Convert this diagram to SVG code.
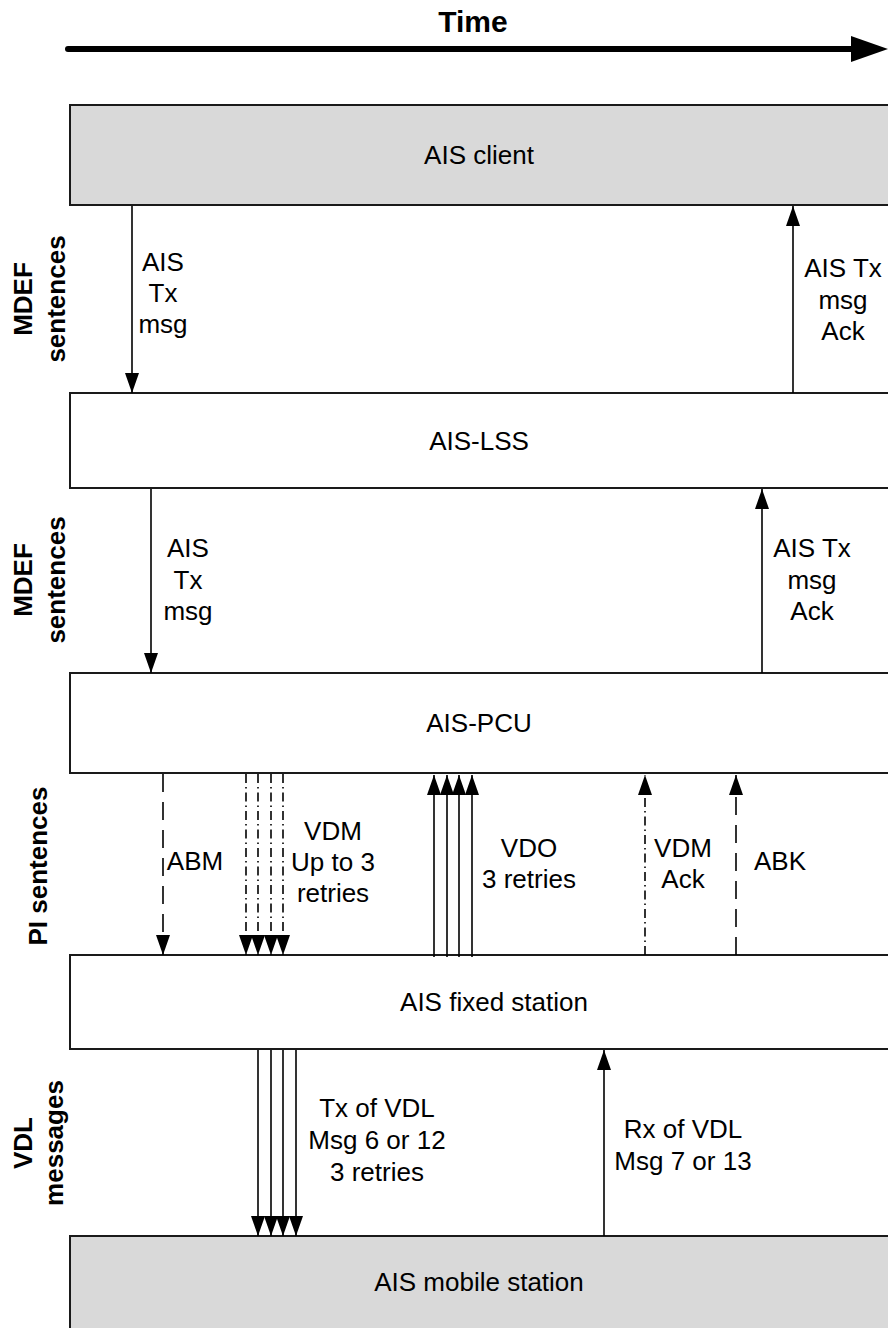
<svg xmlns="http://www.w3.org/2000/svg" width="888" height="1328" viewBox="0 0 888 1328">
<defs>
<style>
text{font-family:"Liberation Sans",Arial,sans-serif;fill:#000}
.t{font-size:26px;text-anchor:middle}
.b{font-size:26px;font-weight:bold;text-anchor:middle}
.box{stroke:#1a1a1a;stroke-width:2}
.grey{fill:#d9d9d9}
.white{fill:#fff}
.c{stroke:#000;stroke-width:1.6;fill:none}
.dash{stroke-dasharray:18,10}
.dd{stroke-dasharray:9,4,1.5,4}
.end{marker-end:url(#ah)}
</style>
<marker id="ah" markerUnits="userSpaceOnUse" markerWidth="20" markerHeight="14" refX="20" refY="7" orient="auto">
<path d="M0,0 L20,7 L0,14 z" fill="#000"/>
</marker>
</defs>
<rect width="888" height="1328" fill="#fff"/>

<g id="time">
<line x1="68" y1="49" x2="856" y2="49" stroke="#000" stroke-width="6" stroke-linecap="round"/>
<polygon points="851,36 888,49 851,62" fill="#000"/>
<text x="473" y="32" style="font-size:30px;font-weight:bold;text-anchor:middle">Time</text>
</g>

<g id="labels">
<text class="b" transform="translate(32,299) rotate(-90)">MDEF</text>
<text class="b" transform="translate(65,299) rotate(-90)">sentences</text>
<text class="b" transform="translate(32,580) rotate(-90)">MDEF</text>
<text class="b" transform="translate(65,580) rotate(-90)">sentences</text>
<text class="b" transform="translate(47,866) rotate(-90)">PI sentences</text>
<text class="b" transform="translate(32,1143) rotate(-90)">VDL</text>
<text class="b" transform="translate(63,1143) rotate(-90)">messages</text>
</g>

<g id="ais-client">
<rect class="box grey" x="70" y="105" width="830" height="100"/>
<text class="t" x="479" y="164">AIS client</text>
</g>
<g id="ais-lss">
<rect class="box white" x="70" y="393" width="830" height="95"/>
<text class="t" x="479" y="450">AIS-LSS</text>
</g>
<g id="ais-pcu">
<rect class="box white" x="70" y="673" width="830" height="100"/>
<text class="t" x="479" y="732">AIS-PCU</text>
</g>
<g id="ais-fixed-station">
<rect class="box white" x="70" y="955" width="830" height="94"/>
<text class="t" x="494" y="1011">AIS fixed station</text>
</g>
<g id="ais-mobile-station">
<rect class="box grey" x="70" y="1236" width="830" height="100"/>
<text class="t" x="479" y="1291">AIS mobile station</text>
</g>

<g id="connectors">
<line class="c end" x1="132" y1="206" x2="132" y2="393"/>
<line class="c end" x1="793" y1="393" x2="793" y2="206"/>
<line class="c end" x1="151" y1="489" x2="151" y2="673"/>
<line class="c end" x1="762" y1="673" x2="762" y2="489"/>

<line class="c dash end" x1="163" y1="774" x2="163" y2="955"/>
<line class="c dd end" x1="246" y1="774" x2="246" y2="955"/>
<line class="c dd end" x1="258" y1="774" x2="258" y2="955"/>
<line class="c dd end" x1="271" y1="774" x2="271" y2="955"/>
<line class="c dd end" x1="283" y1="774" x2="283" y2="955"/>

<line class="c end" x1="434" y1="957" x2="434" y2="775"/>
<line class="c end" x1="447" y1="957" x2="447" y2="775"/>
<line class="c end" x1="459" y1="957" x2="459" y2="775"/>
<line class="c end" x1="472" y1="957" x2="472" y2="775"/>

<line class="c dd end" x1="645" y1="955" x2="645" y2="775"/>
<line class="c dash end" x1="736" y1="955" x2="736" y2="775"/>

<line class="c end" x1="258" y1="1050" x2="258" y2="1236"/>
<line class="c end" x1="271" y1="1050" x2="271" y2="1236"/>
<line class="c end" x1="283" y1="1050" x2="283" y2="1236"/>
<line class="c end" x1="296" y1="1050" x2="296" y2="1236"/>

<line class="c end" x1="604" y1="1236" x2="604" y2="1050"/>
</g>

<g id="connector-labels">
<text class="t" x="163" y="271">AIS</text>
<text class="t" x="163" y="302">Tx</text>
<text class="t" x="163" y="333">msg</text>
<text class="t" x="843" y="277">AIS Tx</text>
<text class="t" x="843" y="309">msg</text>
<text class="t" x="843" y="340">Ack</text>

<text class="t" x="188" y="557">AIS</text>
<text class="t" x="188" y="589">Tx</text>
<text class="t" x="188" y="620">msg</text>
<text class="t" x="812" y="557">AIS Tx</text>
<text class="t" x="812" y="589">msg</text>
<text class="t" x="812" y="620">Ack</text>

<text class="t" x="195" y="870">ABM</text>
<text class="t" x="333" y="840">VDM</text>
<text class="t" x="333" y="871">Up to 3</text>
<text class="t" x="333" y="902">retries</text>
<text class="t" x="529" y="857">VDO</text>
<text class="t" x="529" y="888">3 retries</text>
<text class="t" x="683" y="857">VDM</text>
<text class="t" x="683" y="888">Ack</text>
<text class="t" x="780" y="870">ABK</text>

<text class="t" x="377" y="1117">Tx of VDL</text>
<text class="t" x="377" y="1149">Msg 6 or 12</text>
<text class="t" x="377" y="1181">3 retries</text>
<text class="t" x="683" y="1138">Rx of VDL</text>
<text class="t" x="683" y="1170">Msg 7 or 13</text>
</g>
</svg>
